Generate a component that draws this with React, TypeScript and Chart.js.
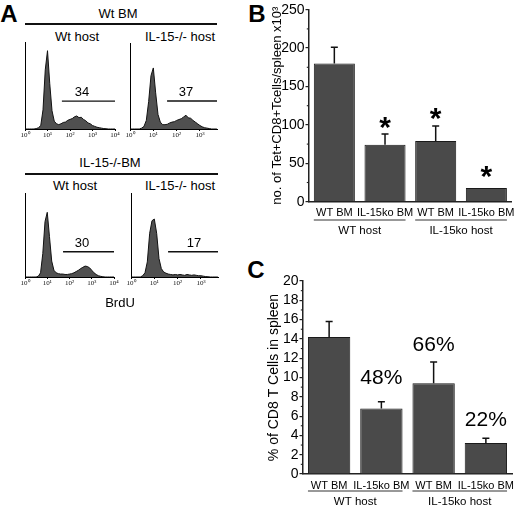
import React, { useEffect, useRef } from 'react';
import { Chart, registerables } from 'chart.js';

Chart.register(...registerables);

const SANS = '"Liberation Sans", Arial, Helvetica, sans-serif';
const SERIF = '"Liberation Serif", "Times New Roman", serif';

// ---------------- Panel A: BrdU histograms ----------------
const logBins = [
  0.0, 0.1, 0.2, 0.3, 0.4, 0.5, 0.6, 0.7, 0.8, 0.9,
  1.0, 1.1, 1.2, 1.3, 1.4, 1.5, 1.6, 1.7, 1.8, 1.9,
  2.0, 2.1, 2.2, 2.3, 2.4, 2.5, 2.6, 2.7, 2.8, 2.9,
  3.0, 3.1, 3.2, 3.3, 3.4, 3.5, 3.6, 3.7, 3.8, 3.9, 4.0,
];
const histWtBmWtHost = [
  0, 0, 0, 0, 0, 0.5, 1.5, 4, 22, 68,
  90, 52, 21, 9, 6, 5, 6, 7.5, 8, 10,
  11, 12, 14, 15, 13, 13.5, 11, 9.5, 7, 6,
  4, 3, 2, 1.5, 1, 0.5, 0.3, 0, 0, 0, 0,
];
const histWtBmKoHost = [
  0, 0, 0, 0, 0, 1, 3, 10, 32, 62,
  71, 42, 17, 8, 5, 5, 5.5, 7, 8, 8.5,
  10, 11, 12, 14, 16, 13, 12.5, 10, 8, 6,
  4, 2.5, 1.5, 1, 0.5, 0, 0, 0, 0, 0, 0,
];
const histKoBmWtHost = [
  0, 0, 0, 0, 0, 0, 1, 5, 28, 66,
  77, 48, 19, 8, 5, 4, 3.5, 3.5, 3, 3,
  3.5, 4, 5, 6.5, 8, 10, 11.5, 13, 12.5, 11,
  8, 5, 3, 1.5, 0.8, 0.3, 0, 0, 0, 0, 0,
];
const histKoBmKoHost = [
  0, 0, 0, 0, 0, 1.5, 5, 18, 52, 67,
  69, 52, 22, 10, 6, 4.5, 3.5, 3, 2.5, 3,
  2.5, 3, 2.5, 2, 3, 2.5, 2, 2.5, 2, 1.5,
  1.5, 1, 0.5, 0.3, 0, 0, 0, 0, 0, 0, 0,
];
const decadeValues = [0, 1, 2, 3, 4];
const decadeLabels = ['10⁰', '10¹', '10²', '10³', '10⁴'];
const gatePercents = ['34', '37', '30', '17'];
const gateFrom = [1.64, 1.59, 1.71, 1.59];
const gateTo = [4.0, 3.73, 4.0, 3.73];
const gateLevel = [32, 32.6, 30, 30];
const gateTextX = [2.53, 2.4, 2.56, 2.7];
const gateTextY = [42.5, 43, 40.5, 40.5];

// ---------------- Panel B: Tet+ CD8 T cell numbers ----------------
const bmCategories = ['WT BM', 'IL-15ko BM', 'WT BM', 'IL-15ko BM'];
const hostGroups = ['WT host', 'IL-15ko host'];
const groupFirst = [0, 2];
const groupLast = [1, 3];
const tetCounts = [180, 74, 79, 18];
const tetErrors = [21, 14, 19.5, 0];
const tetStars = [null, 107, 119, 43];
const tetMinorTicks = [25, 75, 125, 175, 225];

// ---------------- Panel C: % CD8 T cells ----------------
const cd8Percent = [14.2, 6.8, 9.4, 3.2];
const cd8Errors = [1.6, 0.7, 2.2, 0.5];
const cd8Notes = ['', '48%', '66%', '22%'];
const cd8NoteY = [null, 9.9, 13.3, 5.6];
const cd8MinorTicks = [1, 3, 5, 7, 9, 11, 13, 15, 17, 19];

// ---------------- helpers ----------------
function Label(props: { x: number; y: number; size: number; bold?: boolean; children: any }) {
  return (
    <div
      style={{
        position: 'absolute',
        left: props.x,
        top: props.y,
        transform: 'translate(-50%, -50%)',
        fontFamily: SANS,
        fontSize: props.size,
        fontWeight: props.bold ? 700 : 400,
        lineHeight: 1,
        whiteSpace: 'nowrap',
        color: '#000',
      }}
    >
      {props.children}
    </div>
  );
}

function HLine(props: { x0: number; x1: number; y: number }) {
  return (
    <div
      style={{
        position: 'absolute',
        left: props.x0,
        top: props.y - 0.75,
        width: props.x1 - props.x0,
        height: 1.5,
        background: '#111',
      }}
    />
  );
}

function useChart(ref: any, make: () => any) {
  useEffect(() => {
    const chart = new Chart(ref.current, make());
    return () => chart.destroy();
  }, []);
}

function gatePlugin(i: number) {
  return {
    id: 'gate' + i,
    afterDatasetsDraw(chart: any) {
      const { ctx } = chart;
      const x = chart.scales.x;
      const y = chart.scales.y;
      ctx.save();
      ctx.strokeStyle = '#111';
      ctx.lineWidth = 1.4;
      const yy = y.getPixelForValue(gateLevel[i]);
      ctx.beginPath();
      ctx.moveTo(x.getPixelForValue(gateFrom[i]), yy);
      ctx.lineTo(x.getPixelForValue(gateTo[i]), yy);
      ctx.stroke();
      ctx.fillStyle = '#000';
      ctx.font = `13px ${SANS}`;
      ctx.textAlign = 'center';
      ctx.textBaseline = 'middle';
      ctx.fillText(gatePercents[i], x.getPixelForValue(gateTextX[i]), y.getPixelForValue(gateTextY[i]));
      ctx.restore();
    },
  };
}

function Histogram(props: { idx: number; left: number; top: number; w: number; h: number; xMax: number; values: number[] }) {
  const ref = useRef<HTMLCanvasElement>(null);
  const padL = 8, padR = 8, padT = 6, axisH = 14;
  const cw = props.w + padL + padR;
  const ch = props.h + padT + axisH;
  useChart(ref, () => ({
    type: 'line',
    data: {
      datasets: [
        {
          data: logBins.map((x, i) => ({ x, y: props.values[i] })),
          fill: 'origin',
          backgroundColor: '#505050',
          borderColor: '#111',
          borderWidth: 1,
          pointRadius: 0,
          tension: 0,
        },
      ],
    },
    options: {
      animation: false,
      responsive: false,
      events: [],
      plugins: { legend: { display: false }, tooltip: { enabled: false } },
      layout: { padding: { left: padL, right: padR, top: padT, bottom: 0 } },
      scales: {
        x: {
          type: 'linear',
          min: 0,
          max: props.xMax,
          afterBuildTicks: (s: any) => {
            s.ticks = decadeValues.filter((v) => v <= props.xMax).map((v) => ({ value: v }));
          },
          ticks: {
            callback: (v: any) => decadeLabels[Math.round(Number(v))],
            font: { family: SERIF, size: 7 },
            color: '#111',
            padding: 0,
            maxRotation: 0,
            autoSkip: false,
          },
          grid: { display: true, drawOnChartArea: false, drawTicks: true, tickLength: 2, color: '#000' },
          border: { display: true, color: '#000', width: 1 },
          afterFit: (s: any) => {
            s.height = axisH;
          },
        },
        y: {
          type: 'linear',
          min: 0,
          max: 100,
          ticks: { display: false },
          grid: { display: false },
          border: { display: true, color: '#000', width: 1 },
          afterFit: (s: any) => {
            s.width = 0;
          },
        },
      },
    },
    plugins: [gatePlugin(props.idx)],
  }));
  return (
    <canvas
      ref={ref}
      width={cw}
      height={ch}
      style={{ position: 'absolute', left: props.left - padL, top: props.top - padT, width: cw, height: ch }}
    />
  );
}

function barExtras(cfg: {
  errors: number[];
  stars?: (number | null)[];
  notes?: string[];
  noteY?: (number | null)[];
  minor: number[];
  lineOff: number;
  labelOff: number;
}) {
  return {
    id: 'barExtras',
    afterDatasetsDraw(chart: any) {
      const { ctx, chartArea } = chart;
      const y = chart.scales.y;
      const meta = chart.getDatasetMeta(0);
      const values = chart.data.datasets[0].data;
      ctx.save();
      // error bars
      ctx.strokeStyle = '#111';
      ctx.lineWidth = 1.5;
      meta.data.forEach((bar: any, i: number) => {
        const e = cfg.errors[i];
        if (!e) return;
        const yb = y.getPixelForValue(values[i]);
        const yt = y.getPixelForValue(values[i] + e);
        ctx.beginPath();
        ctx.moveTo(bar.x, yb);
        ctx.lineTo(bar.x, yt);
        ctx.moveTo(bar.x - 3.5, yt);
        ctx.lineTo(bar.x + 3.5, yt);
        ctx.stroke();
      });
      // minor ticks on the y axis
      ctx.lineWidth = 1.1;
      ctx.strokeStyle = '#222';
      cfg.minor.forEach((v) => {
        const py = y.getPixelForValue(v);
        ctx.beginPath();
        ctx.moveTo(chartArea.left - 2.2, py);
        ctx.lineTo(chartArea.left, py);
        ctx.stroke();
      });
      // asterisks
      if (cfg.stars) {
        ctx.fillStyle = '#000';
        ctx.font = `bold 30px ${SANS}`;
        ctx.textAlign = 'center';
        ctx.textBaseline = 'alphabetic';
        meta.data.forEach((bar: any, i: number) => {
          const s = cfg.stars![i];
          if (s == null) return;
          ctx.fillText('*', bar.x, y.getPixelForValue(s) + 17.4);
        });
      }
      // percentage notes
      if (cfg.notes && cfg.noteY) {
        ctx.fillStyle = '#000';
        ctx.font = `21px ${SANS}`;
        ctx.textAlign = 'center';
        ctx.textBaseline = 'middle';
        meta.data.forEach((bar: any, i: number) => {
          const ny = cfg.noteY![i];
          if (ny == null || !cfg.notes![i]) return;
          ctx.fillText(cfg.notes![i], bar.x, y.getPixelForValue(ny));
        });
      }
      // host groups
      ctx.strokeStyle = '#333';
      ctx.lineWidth = 1;
      ctx.fillStyle = '#000';
      ctx.font = `11.5px ${SANS}`;
      ctx.textAlign = 'center';
      ctx.textBaseline = 'middle';
      hostGroups.forEach((g, k) => {
        const a: any = meta.data[groupFirst[k]];
        const b: any = meta.data[groupLast[k]];
        const x0 = a.x - a.width / 2;
        const x1 = b.x + b.width / 2;
        const ly = chartArea.bottom + cfg.lineOff;
        ctx.beginPath();
        ctx.moveTo(x0, ly);
        ctx.lineTo(x1, ly);
        ctx.stroke();
        ctx.fillText(g, (x0 + x1) / 2, chartArea.bottom + cfg.labelOff);
      });
      ctx.restore();
    },
  };
}

function barConfig(o: {
  values: number[];
  max: number;
  step: number;
  title: string;
  titleSize: number;
  titlePad: number;
  yWidth: number;
  xHeight: number;
  padTop: number;
  padRight: number;
  barPct: number;
  plugin: any;
}) {
  return {
    type: 'bar',
    data: {
      labels: bmCategories,
      datasets: [
        {
          data: o.values,
          backgroundColor: '#4a4a4a',
          borderColor: '#1a1a1a',
          borderWidth: 1,
          barPercentage: o.barPct,
          categoryPercentage: 1,
        },
      ],
    },
    options: {
      animation: false,
      responsive: false,
      events: [],
      plugins: { legend: { display: false }, tooltip: { enabled: false } },
      layout: { padding: { left: 0, right: o.padRight, top: o.padTop, bottom: 0 } },
      scales: {
        x: {
          type: 'category',
          grid: { display: false, drawTicks: false },
          border: { display: true, color: '#222', width: 1.5 },
          ticks: { font: { family: SANS, size: 11 }, color: '#000', padding: 5, maxRotation: 0, autoSkip: false },
          afterFit: (s: any) => {
            s.height = o.xHeight;
          },
        },
        y: {
          min: 0,
          max: o.max,
          ticks: { stepSize: o.step, autoSkip: false, font: { family: SANS, size: 14 }, color: '#000', padding: 1 },
          grid: { display: true, drawOnChartArea: false, drawTicks: true, tickLength: 3.5, color: '#222', lineWidth: 1.2 },
          border: { display: true, color: '#222', width: 1.5 },
          title: {
            display: true,
            text: o.title,
            color: '#000',
            font: { family: SANS, size: o.titleSize },
            padding: { top: o.titlePad, bottom: 0 },
          },
          afterFit: (s: any) => {
            s.width = o.yWidth;
          },
        },
      },
    },
    plugins: [o.plugin],
  };
}

function TetChart() {
  const ref = useRef<HTMLCanvasElement>(null);
  useChart(ref, () =>
    barConfig({
      values: tetCounts,
      max: 250,
      step: 50,
      title: 'no. of Tet+CD8+Tcells/spleen x10³',
      titleSize: 13,
      titlePad: 9.2,
      yWidth: 49,
      xHeight: 48.3,
      padTop: 9.7,
      padRight: 4,
      barPct: 0.81,
      plugin: barExtras({ errors: tetErrors, stars: tetStars, minor: tetMinorTicks, lineOff: 18.3, labelOff: 29.5 }),
    })
  );
  return <canvas ref={ref} width={260} height={250} style={{ position: 'absolute', left: 260, top: 0, width: 260, height: 250 }} />;
}

function Cd8Chart() {
  const ref = useRef<HTMLCanvasElement>(null);
  useChart(ref, () =>
    barConfig({
      values: cd8Percent,
      max: 20,
      step: 2,
      title: '% of CD8 T Cells in spleen',
      titleSize: 14,
      titlePad: 5.6,
      yWidth: 43,
      xHeight: 36,
      padTop: 21,
      padRight: 8,
      barPct: 0.81,
      plugin: barExtras({ errors: cd8Errors, notes: cd8Notes, noteY: cd8NoteY, minor: cd8MinorTicks, lineOff: 17, labelOff: 28 }),
    })
  );
  return <canvas ref={ref} width={260} height={250} style={{ position: 'absolute', left: 260, top: 260, width: 260, height: 250 }} />;
}

export default function App() {
  return (
    <div style={{ position: 'absolute', left: 0, top: 0, width: 520, height: 510, background: '#fff', overflow: 'hidden' }}>
      {/* Panel letters */}
      <Label x={9} y={13.5} size={24} bold>A</Label>
      <Label x={257} y={14} size={24} bold>B</Label>
      <Label x={256} y={270} size={24} bold>C</Label>

      {/* Panel A headers */}
      <Label x={118} y={13} size={13}>Wt BM</Label>
      <HLine x0={25} x1={217} y={24} />
      <Label x={77} y={36} size={13}>Wt host</Label>
      <Label x={180} y={36} size={13}>IL-15-/- host</Label>

      <Label x={110} y={162} size={13}>IL-15-/-BM</Label>
      <HLine x0={25} x1={218} y={174} />
      <Label x={75} y={185} size={13}>Wt host</Label>
      <Label x={180} y={185} size={13}>IL-15-/- host</Label>

      <Histogram idx={0} left={25} top={42} w={90} h={87} xMax={4} values={histWtBmWtHost} />
      <Histogram idx={1} left={130} top={43} w={87} h={86} xMax={3.73} values={histWtBmKoHost} />
      <Histogram idx={2} left={25} top={193} w={89} h={84} xMax={4} values={histKoBmWtHost} />
      <Histogram idx={3} left={131} top={193} w={87} h={84} xMax={3.73} values={histKoBmKoHost} />

      <Label x={120} y={302} size={13}>BrdU</Label>

      <TetChart />
      <Cd8Chart />
    </div>
  );
}
